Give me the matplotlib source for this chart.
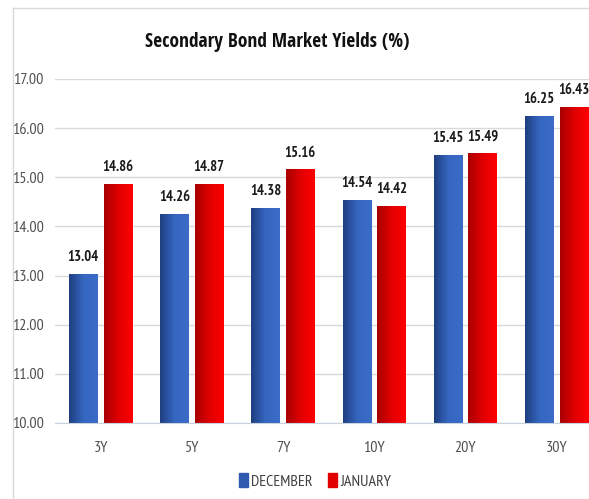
import numpy as np
import matplotlib
matplotlib.use("Agg")
import matplotlib.pyplot as plt
from matplotlib.colors import LinearSegmentedColormap
from matplotlib.patches import Patch
from matplotlib.lines import Line2D

plt.rcParams['font.family'] = ['PT Sans Narrow', 'DejaVu Sans']

tenors = ["3Y", "5Y", "7Y", "10Y", "20Y", "30Y"]
december = [13.04, 14.26, 14.38, 14.54, 15.45, 16.25]
january = [14.86, 14.87, 15.16, 14.42, 15.49, 16.43]
yticks = [10, 11, 12, 13, 14, 15, 16, 17]

blue_cmap = LinearSegmentedColormap.from_list("b", ["#1f3f80", "#3566c0", "#3a6cc8"])
red_cmap = LinearSegmentedColormap.from_list("r", ["#a80000", "#e00000", "#ff0000"])

fig = plt.figure(figsize=(5.89, 4.99), dpi=100)
ax = fig.add_axes([55/589, 76/499, 547/589, 344/499])

x = np.arange(len(tenors))
w = 0.31
off = 0.19

def gradient_bars(xs, vals, cmap, color):
    bars = ax.bar(xs, [v - 10 for v in vals], w, bottom=10, color=color, zorder=2)
    grad = np.linspace(0, 1, 64).reshape(1, -1)
    for b in bars:
        x0, y0 = b.get_x(), b.get_y()
        im = ax.imshow(grad, cmap=cmap, aspect='auto', zorder=3,
                       extent=[x0, x0 + b.get_width(), y0, y0 + b.get_height()])
        im.set_clip_path(b)
    for xi, v in zip(xs, vals):
        ax.annotate(f"{v:.2f}", (xi, v), xytext=(0, 7), textcoords="offset points",
                    ha='center', va='bottom', fontsize=10.5, fontweight='bold',
                    color='#1a1a1a', zorder=4)

gradient_bars(x - off, december, blue_cmap, "#3566c0")
gradient_bars(x + off, january, red_cmap, "#e00000")

ax.set_xlim(-0.5, 5.5)
ax.set_ylim(10, 17)
ax.set_yticks(yticks)
ax.set_yticklabels([f"{t:.2f}" for t in yticks])
ax.set_xticks(x)
ax.set_xticklabels(tenors)
ax.grid(axis='y', color='#d9d9d9', lw=1, zorder=0)
ax.set_axisbelow(True)
for s in ['top', 'right', 'left']:
    ax.spines[s].set_visible(False)
ax.spines['bottom'].set_color('#c9d3df')
ax.spines['bottom'].set_zorder(5)
ax.tick_params(length=0, labelsize=11.5, labelcolor='#505050')
ax.tick_params(axis='x', pad=13)
ax.tick_params(axis='y', pad=8)

fig.text(277/589, 1 - 42/499, "Secondary Bond Market Yields (%)", ha='center', va='center',
         fontsize=14, fontweight='bold', color='#111111',
         family=['Open Sans Condensed', 'DejaVu Sans'])

# outer chart border
fig.add_artist(Line2D([13/589, 13/589], [0, 1 - 8/499], transform=fig.transFigure,
                      color='#d9d9d9', lw=1))
fig.add_artist(Line2D([13/589, 1], [1 - 8/499, 1 - 8/499], transform=fig.transFigure,
                      color='#d9d9d9', lw=1))

handles = [Patch(color="#2e5bb0", label="DECEMBER"), Patch(color="#e00000", label="JANUARY")]
fig.legend(handles=handles, loc='center', bbox_to_anchor=(315/589, 1 - 481/499), ncol=2,
           frameon=False, fontsize=11.5, handlelength=0.55, handleheight=0.9,
           handletextpad=0.2, columnspacing=1.0, labelcolor='#404040')

fig.savefig("out.png", dpi=100)
